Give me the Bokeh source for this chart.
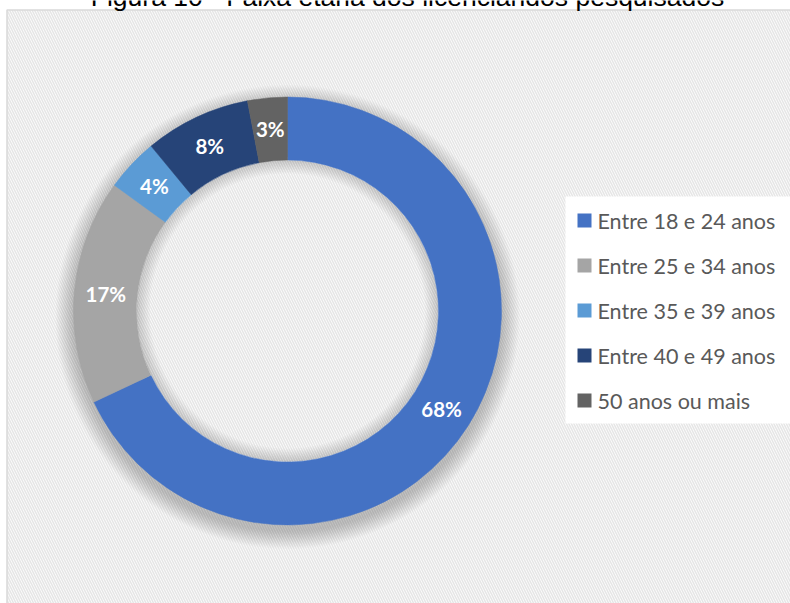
import math
from bokeh.plotting import figure
from bokeh.models import Range1d, ColumnDataSource
from bokeh.core.properties import value
from bokeh.embed import file_html
from bokeh.resources import INLINE

# ---- data ----
title_text = "Figura 10 - Faixa etária dos licenciandos pesquisados"
categories = ["Entre 18 e 24 anos", "Entre 25 e 34 anos", "Entre 35 e 39 anos",
              "Entre 40 e 49 anos", "50 anos ou mais"]
values = [68, 17, 4, 8, 3]
colors = ["#4472C4", "#A5A5A5", "#5B9BD5", "#264478", "#636363"]

W, H = 790, 603
def sy(y):  # screen y -> data y
    return H - y

p = figure(width=W, height=H, x_range=Range1d(0, W), y_range=Range1d(0, H),
           output_backend="svg", toolbar_location=None, min_border=0)
p.axis.visible = False
p.grid.visible = False
p.outline_line_color = None
p.background_fill_color = "white"
p.border_fill_color = "white"

# chart area with diagonal pattern
p.quad(left=[6.5], right=[W + 20], top=[sy(9.5)], bottom=[-20],
       fill_color="white", line_color="#d9d9d9", line_width=1.5,
       hatch_pattern="\\", hatch_color="#e6e6e6", hatch_scale=5, hatch_weight=1.6)

# title (cut at top edge)
p.text(x=[407], y=[sy(-4)], text=[title_text], text_font=value("Liberation Sans"),
       text_font_size="26.5px", text_align="center", text_baseline="alphabetic",
       text_color="black")

cx, cy = 287, sy(310.5)
r_out, r_in = 214, 151

# outer soft shadow
for k in range(14):
    p.annulus(x=[cx], y=[cy - 6], inner_radius=160, outer_radius=r_out + 1 + k * 1.3,
              fill_color="black", fill_alpha=0.016, line_color=None)
# inner shadow in hole
for k in range(8):
    p.annulus(x=[cx], y=[cy], inner_radius=r_in - 2 - k * 1.6, outer_radius=r_in,
              fill_color="black", fill_alpha=0.02, line_color=None)

total = float(sum(values))
starts, ends, lx, ly, labels = [], [], [], [], []
c = 0.0
for v in values:
    c0 = c / total
    c1 = (c + v) / total
    starts.append(math.pi / 2 - 2 * math.pi * c0)
    ends.append(math.pi / 2 - 2 * math.pi * c1)
    mid = math.pi / 2 - 2 * math.pi * (c0 + c1) / 2
    rm = (r_out + r_in) / 2
    lx.append(cx + rm * math.cos(mid))
    ly.append(cy + rm * math.sin(mid))
    labels.append(f"{v}%")
    c += v

src = ColumnDataSource(dict(start=starts, end=ends, color=colors, cat=categories))
p.annular_wedge(x=cx, y=cy, inner_radius=r_in, outer_radius=r_out,
                start_angle="start", end_angle="end", direction="clock",
                fill_color="color", line_color="color", line_width=0.5, source=src)

p.text(x=lx, y=ly, text=labels, text_font=value("Lato"), text_font_style="bold",
       text_font_size="20.5px", text_color="white", text_align="center",
       text_baseline="middle")

# legend
p.quad(left=[565], right=[W + 20], top=[sy(196)], bottom=[sy(423)],
       fill_color="white", line_color=None)
row_y = [sy(220 + i * 45) for i in range(len(categories))]
p.rect(x=[584] * len(categories), y=row_y, width=14, height=14,
       fill_color=colors, line_color=None)
p.text(x=[597] * len(categories), y=row_y, text=categories, text_font=value("Lato"),
       text_font_size="21.5px", text_color="#595959", text_align="left",
       text_baseline="middle")

open("out.html", "w").write(file_html(p, INLINE))
